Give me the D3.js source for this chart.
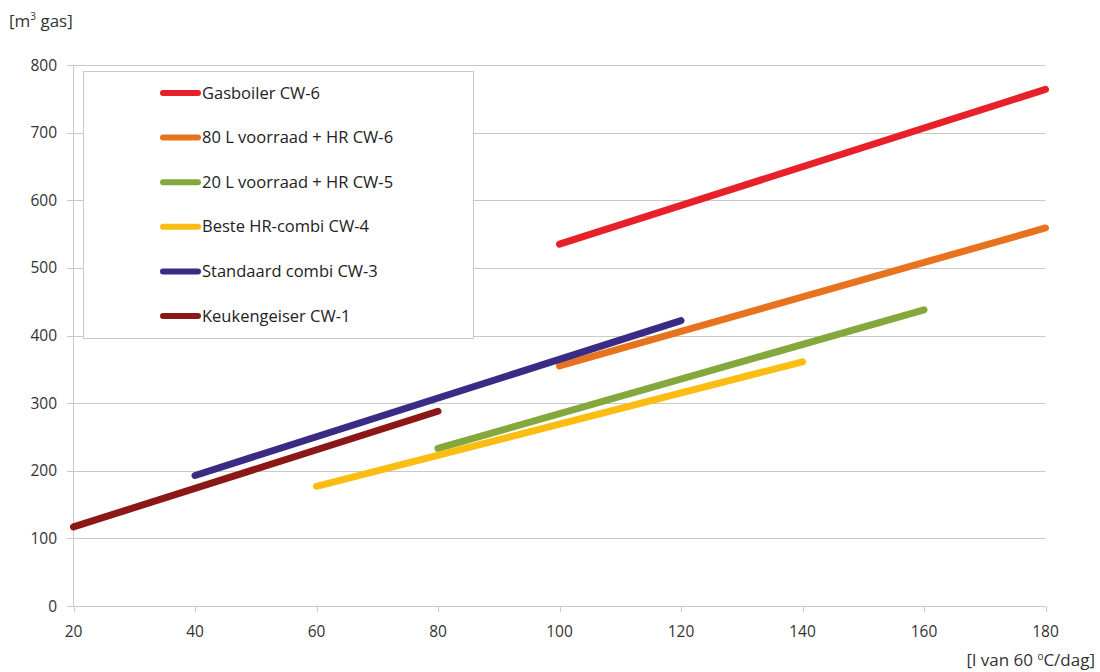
<!DOCTYPE html>
<html><head><meta charset="utf-8">
<script src="https://cdn.jsdelivr.net/npm/d3@7"></script>
<style>body{margin:0;background:#fff;} text{font-family:"Open Sans","Noto Sans",sans-serif;}</style>
</head><body><svg id="c" width="1100" height="672"></svg>
<script>
const seriesNames = ["Gasboiler CW-6","80 L voorraad + HR CW-6","20 L voorraad + HR CW-5","Beste HR-combi CW-4","Standaard combi CW-3","Keukengeiser CW-1"];
const seriesColors = ["#e8202a","#e8731f","#84a83c","#fbbd12","#3a2b85","#8c1717"];
const seriesX = [[100,180],[100,180],[80,160],[60,140],[40,120],[20,80]];
const seriesY = [[535,764],[355,559],[233,438],[177,361],[193,422],[117,288]];
const xTicks = [20,40,60,80,100,120,140,160,180];
const yTicks = [0,100,200,300,400,500,600,700,800];

const svg = d3.select("#c");
const x = d3.scaleLinear().domain([20,180]).range([73.5,1045.5]);
const y = d3.scaleLinear().domain([0,800]).range([606,65]);

svg.append("g").selectAll("line").data(yTicks).join("line")
  .attr("x1",67).attr("x2",1045.5).attr("y1",d=>Math.round(y(d))+0.5).attr("y2",d=>Math.round(y(d))+0.5)
  .attr("stroke","#c9c9c9").attr("stroke-width",1);
svg.append("line").attr("x1",73.5).attr("x2",73.5).attr("y1",y(800)).attr("y2",606.5).attr("stroke","#c9c9c9");
svg.append("g").selectAll("line").data(xTicks).join("line")
  .attr("x1",d=>Math.round(x(d))+0.5).attr("x2",d=>Math.round(x(d))+0.5).attr("y1",606).attr("y2",612)
  .attr("stroke","#c9c9c9");
svg.append("g").selectAll("text").data(yTicks).join("text")
  .attr("x",57).attr("y",d=>y(d)+5.5).attr("text-anchor","end").attr("font-size",15.5).attr("fill","#333").text(d=>d);
svg.append("g").selectAll("text").data(xTicks).join("text")
  .attr("x",d=>x(d)).attr("y",637).attr("text-anchor","middle").attr("font-size",15.5).attr("fill","#333").text(d=>d);

svg.append("rect").attr("x",83.5).attr("y",71.5).attr("width",390).attr("height",267)
  .attr("fill","#fff").attr("stroke","#c9c9c9");

const line = d3.line();
seriesNames.forEach((n,i)=>{
  const pts = seriesX[i].map((xv,j)=>[x(xv),y(seriesY[i][j])]);
  svg.append("path").attr("d",line(pts)).attr("fill","none").attr("stroke",seriesColors[i])
    .attr("stroke-width",7).attr("stroke-linecap","round");
});

const lg = svg.append("g");
seriesNames.forEach((n,i)=>{
  const yy = 93 + i*44.6;
  lg.append("line").attr("x1",163).attr("x2",198).attr("y1",yy).attr("y2",yy)
    .attr("stroke",seriesColors[i]).attr("stroke-width",6).attr("stroke-linecap","round");
  lg.append("text").attr("x",202).attr("y",yy+5.5).attr("font-size",16.5).attr("fill","#222").text(n);
});

const t1 = svg.append("text").attr("x",9).attr("y",27).attr("font-size",17).attr("fill","#333");
t1.append("tspan").text("[m");
t1.append("tspan").attr("font-size",10).attr("dy",-7).text("3");
t1.append("tspan").attr("dy",7).text(" gas]");
const t2 = svg.append("text").attr("x",1095).attr("y",666).attr("text-anchor","end").attr("font-size",17).attr("fill","#333");
t2.append("tspan").text("[l van 60 ");
t2.append("tspan").attr("font-size",10).attr("dy",-6).text("o");
t2.append("tspan").attr("dy",6).text("C/dag]");
</script></body></html>
